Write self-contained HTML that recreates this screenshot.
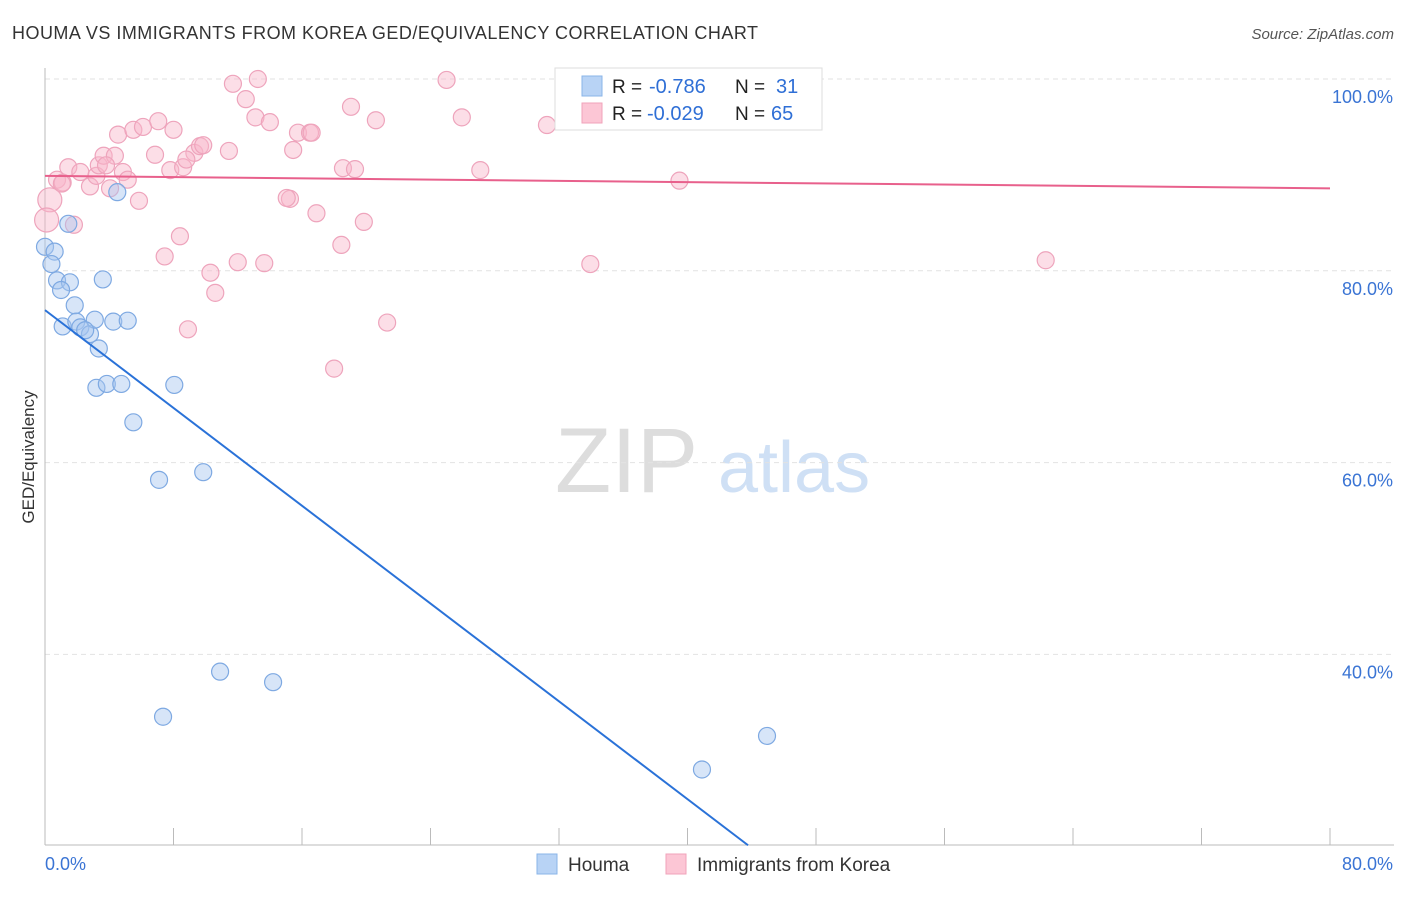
<!DOCTYPE html>
<html><head><meta charset="utf-8"><style>
body{margin:0;background:#fff;font-family:"Liberation Sans",sans-serif;}
svg text{font-family:"Liberation Sans",sans-serif;}
</style></head><body>
<svg id="chart" width="1406" height="892" xmlns="http://www.w3.org/2000/svg">
<text x="12" y="39" font-size="18" fill="#333" textLength="746" lengthAdjust="spacing">HOUMA VS IMMIGRANTS FROM KOREA GED/EQUIVALENCY CORRELATION CHART</text>
<text x="1394" y="39" font-size="15" fill="#555" text-anchor="end" font-style="italic">Source: ZipAtlas.com</text>
<text x="34" y="457" font-size="17" fill="#333" text-anchor="middle" transform="rotate(-90 34 457)">GED/Equivalency</text>
<g>
<text x="555" y="492" font-size="92" fill="#ddd" font-family="Liberation Serif,serif">ZIP</text>
<text x="718" y="492" font-size="72" fill="#cfe0f5">atlas</text>
</g>
<g id="grid"></g><g id="axes"></g><g id="pts"></g><g id="lines"></g>
<g>
<rect x="555" y="68" width="267" height="62" fill="#fff" stroke="#ddd"/>
<rect x="582" y="76" width="20" height="20" fill="#b8d3f5" stroke="#8ab4e8"/>
<rect x="582" y="103" width="20" height="20" fill="#fcc6d5" stroke="#f0a3ba"/>
<text x="612" y="93" font-size="19" fill="#222">R =</text>
<text x="649" y="93" font-size="20" fill="#2f6fd6">-0.786</text>
<text x="735" y="93" font-size="19" fill="#222">N =</text>
<text x="776" y="93" font-size="20" fill="#2f6fd6">31</text>
<text x="612" y="120" font-size="19" fill="#222">R =</text>
<text x="647" y="120" font-size="20" fill="#2f6fd6">-0.029</text>
<text x="735" y="120" font-size="19" fill="#222">N =</text>
<text x="771" y="120" font-size="20" fill="#2f6fd6">65</text>
</g>
<g>
<rect x="537" y="854" width="20" height="20" fill="#b8d3f5" stroke="#8ab4e8"/>
<text x="568" y="871" font-size="19" fill="#333">Houma</text>
<rect x="666" y="854" width="20" height="20" fill="#fcc6d5" stroke="#f0a3ba"/>
<text x="697" y="871" font-size="19" fill="#333">Immigrants from Korea</text>
</g>
</svg>
<script>
const yTicks=[100,80,60,40];
const yTickLabels=["100.0%","80.0%","60.0%","40.0%"];
const xTicks=[0,8,16,24,32,40,48,56,64,72,80];
const houmaX=[0,0.6,0.4,0.75,1.55,1.0,1.85,1.1,1.95,2.2,2.8,3.1,4.25,5.15,3.35,3.2,3.85,4.75,8.05,5.5,7.1,9.85,4.5,1.45,10.9,14.2,7.35,44.95,40.9,3.6,2.5];
const houmaY=[82.5,82.0,80.7,79.0,78.8,78.0,76.4,74.2,74.7,74.1,73.4,74.9,74.7,74.8,71.9,67.8,68.2,68.2,68.1,64.2,58.2,59.0,88.2,84.9,38.2,37.1,33.5,31.5,28.0,79.1,73.8];
const koreaX=[0.3,0.75,1.1,1.45,2.2,2.8,3.2,3.35,3.65,4.05,4.35,4.55,4.85,5.15,5.5,5.85,6.1,6.85,7.05,7.8,8.0,8.4,8.6,8.9,9.3,9.65,9.85,10.3,10.6,11.45,11.7,12.0,12.5,13.1,13.25,13.65,14.0,15.25,15.45,15.75,16.5,16.6,16.9,18.45,18.0,18.55,19.05,19.3,19.85,20.6,21.3,25.0,25.95,27.1,31.25,33.95,39.5,62.3,1.8,7.45,1.05,3.8,8.8,15.05,0.1];
const koreaY=[87.4,89.5,89.2,90.8,90.3,88.8,89.9,91.0,92.0,88.6,92.0,94.2,90.3,89.5,94.7,87.3,95.0,92.1,95.6,90.5,94.7,83.6,90.8,73.9,92.3,93.0,93.1,79.8,77.7,92.5,99.5,80.9,97.9,96.0,100,80.8,95.5,87.5,92.6,94.4,94.4,94.4,86.0,82.7,69.8,90.7,97.1,90.6,85.1,95.7,74.6,99.9,96.0,90.5,95.2,80.7,89.4,81.1,84.8,81.5,89.1,91.0,91.6,87.6,85.3];
const houmaLine=[[0,75.9],[43.77,20.1]];
const koreaLine=[[0,89.9],[80,88.6]];
const NS="http://www.w3.org/2000/svg";
const sx=v=>45+v*(1285/80);
const sy=v=>79+(100-v)*9.59;
function mk(t,a,p){const e=document.createElementNS(NS,t);for(const k in a)e.setAttribute(k,a[k]);document.getElementById(p).appendChild(e);return e;}
yTicks.forEach((t,i)=>{
 const g=mk('line',{x1:45,x2:1394,y1:sy(t),y2:sy(t),stroke:'#e2e2e2','stroke-dasharray':'5,4'},'grid');
 
 
 const l=mk('text',{x:1393,y:sy(t)+24,'font-size':18,fill:'#3a74d4','text-anchor':'end'},'axes');
 l.textContent=yTickLabels[i];
 
 
});
const ax=mk('line',{x1:45,x2:1394,y1:845,y2:845,stroke:'#bbb'},'axes');


const ay=mk('line',{x1:45,x2:45,y1:68,y2:845,stroke:'#bbb'},'axes');


xTicks.forEach(t=>{const k=mk('line',{x1:sx(t),x2:sx(t),y1:828,y2:845,stroke:'#bbb'},'axes');
 
 });
[[0,"0.0%",'start',45],[80,"80.0%",'end',1393]].forEach(d=>{const l=mk('text',{x:d[3],y:870,'font-size':18,fill:'#3a74d4','text-anchor':d[2]},'axes');l.textContent=d[1];
 
 });
koreaX.forEach((x,i)=>{const r=(i===0||i===koreaX.length-1)?12:8.5;
 const c=mk('circle',{cx:sx(x),cy:sy(koreaY[i]),r:r,fill:'rgba(248,182,202,0.45)',stroke:'#eea4bc','stroke-width':1.2},'pts');
 
 });
houmaX.forEach((x,i)=>{const c=mk('circle',{cx:sx(x),cy:sy(houmaY[i]),r:8.5,fill:'rgba(166,198,240,0.45)',stroke:'#7ea9e2','stroke-width':1.2},'pts');
 
 });
const bl=mk('line',{x1:sx(houmaLine[0][0]),y1:sy(houmaLine[0][1]),x2:sx(houmaLine[1][0]),y2:sy(houmaLine[1][1]),stroke:'#2a72d8','stroke-width':2},'lines');


const pl=mk('line',{x1:sx(koreaLine[0][0]),y1:sy(koreaLine[0][1]),x2:sx(koreaLine[1][0]),y2:sy(koreaLine[1][1]),stroke:'#e8608c','stroke-width':2},'lines');


</script>
</body></html>
